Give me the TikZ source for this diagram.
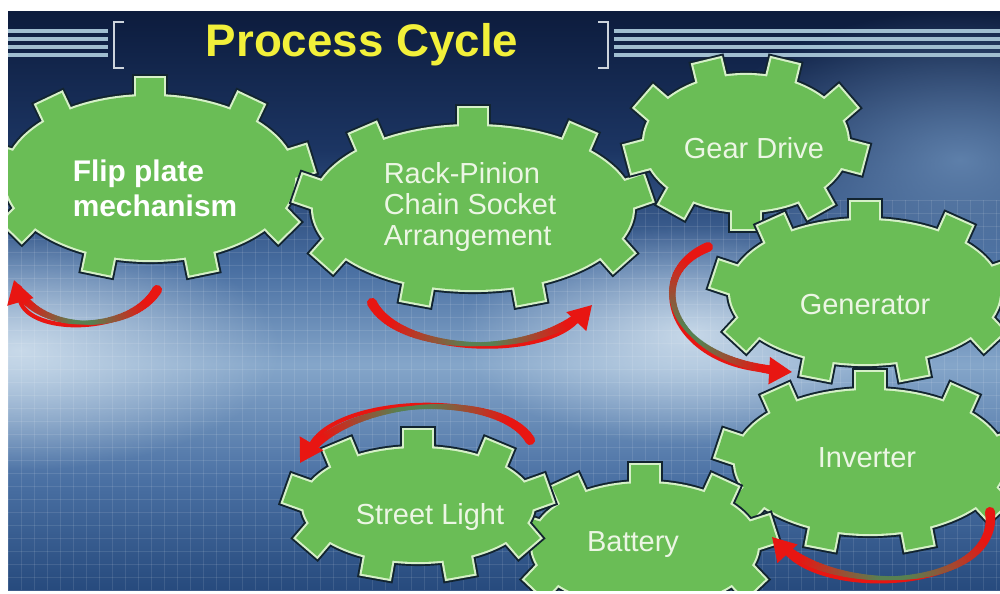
\documentclass[tikz,border=0pt]{standalone}
\usepackage{fontspec}
\setmainfont{Liberation Sans}
\usetikzlibrary{arrows.meta}
\usetikzlibrary{fadings}
\usetikzlibrary{decorations.markings}

\definecolor{gearGreen}{RGB}{106,189,86}
\definecolor{gearDark}{RGB}{18,36,48}
\definecolor{gearRim}{RGB}{214,240,200}
\definecolor{gearText}{RGB}{236,246,228}
\definecolor{turnRed}{RGB}{232,22,18}
\definecolor{turnMid}{RGB}{72,140,88}
\definecolor{titleYellow}{RGB}{242,240,58}
\definecolor{stripeBlue}{RGB}{160,190,208}
\definecolor{brkGray}{RGB}{205,212,220}
\definecolor{glow}{RGB}{214,228,240}
\definecolor{steel}{RGB}{105,140,182}

\pgfdeclareverticalshading{panel}{100bp}{rgb(0bp)=(0.15,0.29,0.49); rgb(25bp)=(0.15,0.29,0.49); rgb(34.5bp)=(0.29,0.44,0.64); rgb(44.5bp)=(0.52,0.65,0.79); rgb(53bp)=(0.28,0.43,0.63); rgb(63bp)=(0.11,0.21,0.39); rgb(75bp)=(0.05,0.11,0.24); rgb(100bp)=(0.05,0.11,0.24)}
\tikzfading[name=glowfade, inner color=transparent!15, outer color=transparent!100]

\tikzset{gearout/.style={draw=gearDark,line width=4.6pt}}
\tikzset{gearrim/.style={draw=gearRim,line width=2.4pt}}
\tikzset{gearfill/.style={fill=gearGreen}}
\tikzset{tooth/.style={rectangle,minimum width=0.72cm,minimum height=0.56cm,inner sep=0pt}}
\tikzset{lbl/.style={text=gearText,font=\fontsize{16.5}{17.5}\selectfont,align=center}}
\tikzset{turn/.style={draw=turnRed,line width=2.4pt,-{Triangle[length=13pt,width=15pt]},
  postaction={decorate},
  decoration={markings,mark=between positions 0 and 0.95 step 1pt with {
    \pgfmathsetmacro\wgt{1-abs(2*\pgfkeysvalueof{/pgf/decoration/mark info/distance from start}/\pgfdecoratedpathlength-1)}
    \pgfmathsetmacro\mixp{min(90,max(0,140*\wgt-35))}
    \pgfmathsetmacro\rad{2.9-1.7*\wgt}
    \fill[turnMid!\mixp!turnRed] (0,0) circle (\rad pt);}}}}
\tikzset{gridln/.style={draw=white,opacity=0.1,line width=0.4pt}}
\tikzset{stripe/.style={draw=stripeBlue,line width=2.3pt}}
\tikzset{brk/.style={draw=brkGray,line width=1.5pt}}

% body + nine teeth: cx, cy, rx, ry, first tooth
\newcommand{\gear}[5]{%
  \foreach \s in {gearout,gearrim,gearfill}{
    \path[\s] (#1,#2) ellipse ({#3} and {#4});
    \foreach \k in {0,...,8}{
      \pgfmathsetmacro\tang{#5+40*\k}
      \pgfmathsetmacro\nang{-atan2(#3*sin(\tang),#4*cos(\tang))}
      \node[tooth,\s,rotate=\nang] at ({#1+#3*cos(\tang)},{#2+#4*sin(\tang)}) {};
    }
  }
}

\begin{document}
\begin{tikzpicture}[x=0.02cm,y=-0.02cm]
\useasboundingbox (0,0) rectangle (1000,594);
\fill[white] (0,0) rectangle (1000,594);
\begin{scope}
  \clip (8,12) rectangle (1000,590);
  \shade[shading=panel] (8,12) rectangle (1000,590);
  \fill[glow, path fading=glowfade] (20,350) ellipse (260 and 120);
  \fill[glow, path fading=glowfade] (690,335) ellipse (230 and 110);
  \fill[steel, path fading=glowfade] (960,160) ellipse (260 and 150);
  \foreach \gx in {8,21,...,1000} \draw[gridln] (\gx,200) -- (\gx,590);
  \foreach \gy in {200,213,...,590} \draw[gridln] (8,\gy) -- (1000,\gy);
  % title bar
  \foreach \sy in {31,39,47,55}{
    \draw[stripe] (8,\sy) -- (108,\sy);
    \draw[stripe] (614,\sy) -- (1000,\sy);
  }
  \draw[brk] (124,22) -- (114,22) -- (114,68) -- (124,68);
  \draw[brk] (598,22) -- (608,22) -- (608,68) -- (598,68);
  % gears
  \gear{150}{178}{145}{82}{-90}
  \gear{473}{208}{160}{82}{-90}
  \gear{746}{143}{102}{68}{-70}
  \gear{865}{292}{135}{72}{-90}
  \gear{870}{462}{135}{72}{-90}
  \gear{645}{545}{113}{62}{-90}
  \gear{418}{505}{115}{57}{-90}
\end{scope}

\node[font=\bfseries\fontsize{26}{30}\selectfont, text=titleYellow] (title) at (362,45) {Process Cycle};

\node[lbl, text=white, align=left, font=\bfseries\fontsize{17}{20}\selectfont] (flip) at (155,188) {Flip plate\\mechanism};
\node[lbl, align=left] (rack) at (470,207) {Rack-Pinion\\Chain Socket\\Arrangement};
\node[lbl] (gdrv) at (754,148) {Gear Drive};
\node[lbl] (genr) at (865,305) {Generator};
\node[lbl] (inv) at (867,458) {Inverter};
\node[lbl] (light) at (430,517) {Street Light};
\node[lbl] (batt) at (633,545) {Battery};

% turning arrows
\coordinate (flipA) at (157,290);
\coordinate (flipB) at (14,280);
\coordinate (rackA) at (372,303);
\coordinate (rackB) at (592,305);
\coordinate (gdrvA) at (708,247);
\coordinate (gdrvB) at (792,372);
\coordinate (invA) at (990,512);
\coordinate (invB) at (772,537);
\coordinate (lightA) at (530,440);
\coordinate (lightB) at (300,463);
\draw[turn] (flipA) .. controls (130,335) and (30,335) .. (flipB);
\draw[turn] (rackA) .. controls (400,355) and (540,360) .. (rackB);
\draw[turn] (gdrvA) .. controls (640,275) and (670,365) .. (gdrvB);
\draw[turn] (invA) .. controls (1000,590) and (830,600) .. (invB);
\draw[turn] (lightA) .. controls (500,390) and (340,395) .. (lightB);
\end{tikzpicture}
\end{document}
